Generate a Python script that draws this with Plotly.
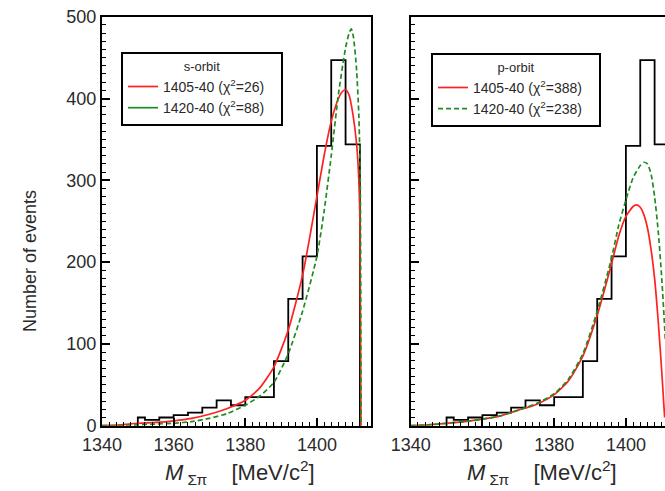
import plotly.graph_objects as go

W, H = 665, 491

# ---- data ----
hist_edges = [1350, 1352, 1356, 1360, 1364, 1368, 1372, 1376, 1380, 1384,
              1388, 1392, 1396, 1400, 1404, 1408, 1412]
hist_counts = [10, 7, 10, 13, 16, 22, 31, 25, 35, 35, 79, 155, 207, 342, 447, 344]

s_red_x = [1340, 1345, 1350, 1355, 1360, 1365, 1370, 1375, 1380, 1384, 1388, 1392,
           1396, 1400, 1402, 1404, 1406, 1407, 1408, 1409, 1410, 1411, 1411.6, 1412.0, 1412.3]
s_red_y = [0, 1, 3, 4, 6, 9, 14, 21, 31, 46, 72, 117,
           184, 280, 330, 372, 400, 408, 411, 404, 382, 348, 310, 250, 0]

s_green_x = [1340, 1345, 1350, 1355, 1360, 1365, 1370, 1375, 1380, 1384, 1388, 1392,
             1396, 1400, 1402, 1404, 1406, 1408, 1409, 1409.6, 1410.2, 1411, 1411.7, 1412.1, 1412.3]
s_green_y = [0, 0, 1, 2, 3, 5, 9, 15, 25, 36, 53, 88,
             140, 207, 262, 330, 405, 462, 480, 485, 475, 440, 380, 300, 0]

p_red_x = [1340, 1345, 1350, 1355, 1360, 1365, 1370, 1375, 1380, 1384, 1388, 1392,
           1396, 1398, 1400, 1402, 1403, 1404, 1405, 1406, 1407, 1408, 1409, 1410, 1410.8]
p_red_y = [0, 1, 3, 5, 8, 12, 19, 26, 38, 55, 85, 135,
           198, 232, 256, 268, 270, 267, 258, 242, 216, 180, 128, 66, 10]

p_green_x = [1340, 1345, 1350, 1355, 1360, 1365, 1370, 1375, 1380, 1384, 1388, 1392,
             1396, 1398, 1400, 1402, 1404, 1405, 1406, 1407, 1408, 1409, 1410, 1411]
p_green_y = [0, 1, 3, 5, 8, 12, 19, 27, 39, 57, 88, 140,
             205, 245, 276, 303, 318, 322, 320, 308, 280, 238, 180, 105]

x_ticks = [1340, 1360, 1380, 1400]
y_ticks = [0, 100, 200, 300, 400, 500]

s_names = ["1405-40 (χ<sup>2</sup>=26)", "1420-40 (χ<sup>2</sup>=88)"]
p_names = ["1405-40 (χ<sup>2</sup>=388)", "1420-40 (χ<sup>2</sup>=238)"]
PAD = "&nbsp;&nbsp;&nbsp;"

RED = "#ff2020"
GREEN = "#1e8c1e"
FONT = "Liberation Sans"
TXT = "#2a2a2a"

# histogram step outline
step_x = [hist_edges[0]] + hist_edges
step_y = [0] + hist_counts + [0]

fig = go.Figure()

# left panel
fig.add_trace(go.Scatter(x=step_x, y=step_y, mode="lines", line=dict(color="black", width=1.8, shape="hv"),
                         showlegend=False, xaxis="x", yaxis="y"))
fig.add_trace(go.Scatter(x=s_red_x, y=s_red_y, mode="lines", line=dict(color=RED, width=1.7, shape="spline", smoothing=0.6),
                         name=s_names[0] + PAD, legend="legend", xaxis="x", yaxis="y"))
fig.add_trace(go.Scatter(x=s_green_x, y=s_green_y, mode="lines",
                         line=dict(color=GREEN, width=1.7, dash="5px,3px", shape="spline", smoothing=0.6),
                         showlegend=False, xaxis="x", yaxis="y"))
fig.add_trace(go.Scatter(x=[None], y=[None], mode="lines", line=dict(color=GREEN, width=1.7),
                         name=s_names[1] + PAD, legend="legend", xaxis="x", yaxis="y"))

# right panel
fig.add_trace(go.Scatter(x=step_x, y=step_y, mode="lines", line=dict(color="black", width=1.8, shape="hv"),
                         showlegend=False, xaxis="x2", yaxis="y2"))
fig.add_trace(go.Scatter(x=p_red_x, y=p_red_y, mode="lines", line=dict(color=RED, width=1.7, shape="spline", smoothing=0.6),
                         name=p_names[0] + PAD, legend="legend2", xaxis="x2", yaxis="y2"))
fig.add_trace(go.Scatter(x=p_green_x, y=p_green_y, mode="lines",
                         line=dict(color=GREEN, width=1.7, dash="5px,3px", shape="spline", smoothing=0.6),
                         name=p_names[1] + PAD, legend="legend2", xaxis="x2", yaxis="y2"))

def px_x(p):
    return p / W

def px_y(p):
    return 1 - p / H

ydom = [px_y(425.7), px_y(16.7)]

xcommon = dict(showline=True, linecolor="black", linewidth=2, mirror=True, showgrid=False, zeroline=False,
               automargin=False,
               ticks="inside", ticklen=8, tickwidth=1.5, tickcolor="black",
               tickvals=x_ticks, ticktext=[str(v) for v in x_ticks],
               ticklabelstandoff=2,
               tickfont=dict(family=FONT, size=18, color=TXT),
               minor=dict(dtick=2, ticks="inside", ticklen=4, tickwidth=1.2, tickcolor="black"))
ycommon = dict(showline=True, linecolor="black", linewidth=2, showgrid=False, zeroline=False,
               automargin=False,
               range=[0, 500], ticks="inside", ticklen=8, tickwidth=1.5, tickcolor="black",
               tickvals=y_ticks,
               tickfont=dict(family=FONT, size=18, color=TXT),
               minor=dict(dtick=10, ticks="inside", ticklen=4, tickwidth=1.2, tickcolor="black"))

legend_common = dict(xanchor="left", yanchor="top",
                     bordercolor="black", borderwidth=2, bgcolor="white",
                     font=dict(family=FONT, size=14, color=TXT),
                     itemwidth=30, tracegroupgap=0)

fig.update_layout(
    width=W, height=H, margin=dict(l=0, r=0, t=0, b=0, autoexpand=False),
    paper_bgcolor="white", plot_bgcolor="white",
    xaxis=dict(domain=[px_x(102), px_x(371)], range=[1340, 1415.1], anchor="y", **xcommon),
    yaxis=dict(domain=ydom, anchor="x", mirror=True, **ycommon),
    xaxis2=dict(domain=[px_x(410.7), 1.0], range=[1340, 1410.9], anchor="y2", **xcommon),
    yaxis2=dict(domain=ydom, anchor="x2", mirror=False, showticklabels=False, **ycommon),
    legend=dict(x=px_x(121), y=px_y(52),
                title=dict(text="s-orbit", side="top center", font=dict(family=FONT, size=13, color=TXT)),
                **legend_common),
    legend2=dict(x=px_x(431), y=px_y(53),
                 title=dict(text="p-orbit", side="top center", font=dict(family=FONT, size=13, color=TXT)),
                 **legend_common),
)

xtitle = "<i>M</i><sub> Σπ</sub>    [MeV/c<sup>2</sup>]"
fig.add_annotation(text=xtitle, x=px_x(240), y=px_y(472), xref="paper", yref="paper",
                   showarrow=False, font=dict(family=FONT, size=22, color=TXT), xanchor="center", yanchor="middle")
fig.add_annotation(text=xtitle, x=px_x(542), y=px_y(472), xref="paper", yref="paper",
                   showarrow=False, font=dict(family=FONT, size=22, color=TXT), xanchor="center", yanchor="middle")
fig.add_annotation(text="Number of events", x=px_x(30), y=px_y(261), xref="paper", yref="paper",
                   showarrow=False, textangle=-90, font=dict(family=FONT, size=18, color=TXT),
                   xanchor="center", yanchor="middle")

fig.write_html("out.html")
